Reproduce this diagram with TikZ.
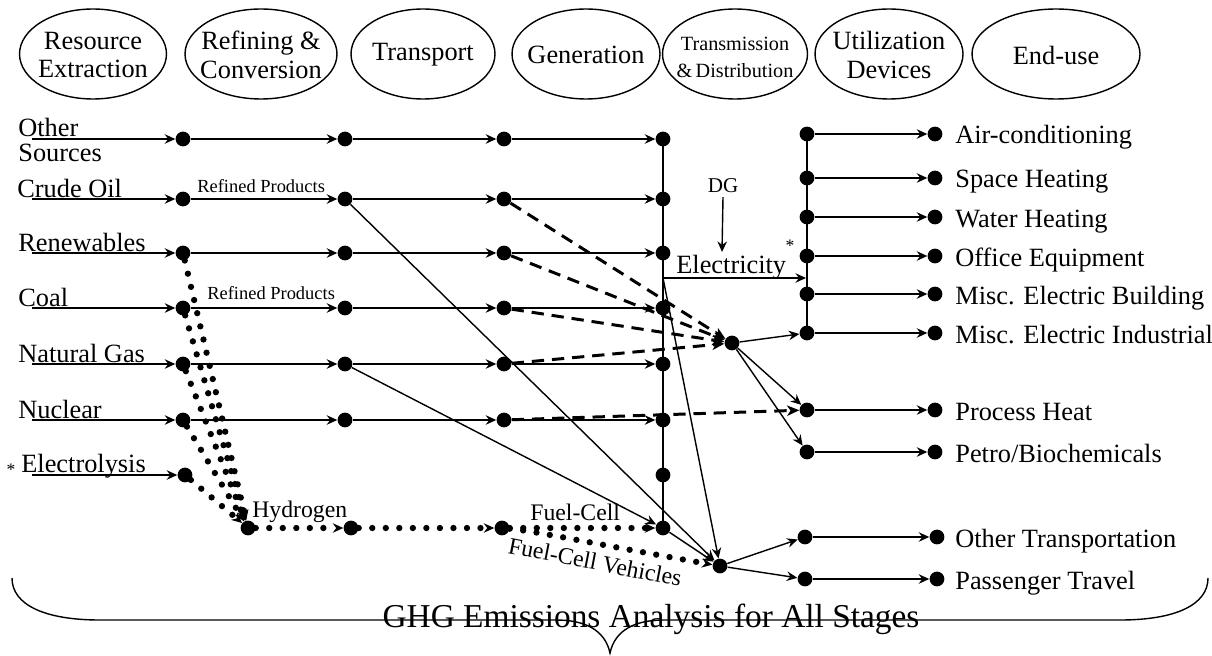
\documentclass[tikz,border=0pt]{standalone}
\usepackage{fontspec}
\setmainfont{Liberation Serif}
\usetikzlibrary{shapes.geometric,arrows.meta}
\begin{document}
\begin{tikzpicture}[x=0.02cm,y=-0.02cm,
  dot/.style={circle, fill=black, inner sep=0pt, minimum size=8.4pt},
  stage/.style={ellipse, draw, line width=0.8pt, inner sep=0pt, minimum height=1.8cm},
  stagetext/.style={inner sep=0pt, align=center, font=\fontsize{15}{16.4}\selectfont},
  flow/.style={line width=0.8pt, -{Stealth[length=6pt,width=5.4pt,inset=2pt]}},
  trunk/.style={line width=1pt},
  dashflow/.style={line width=1.7pt, dash pattern=on 7pt off 4.5pt,
    -{Stealth[length=7pt,width=6pt,inset=2pt,line width=0.8pt]}},
  dotflow/.style={line width=3.6pt, line cap=round, dash pattern=on 0pt off 7.7pt,
    -{Stealth[length=6pt,width=5.4pt,inset=2pt,line width=0.6pt]}},
  lab/.style={inner sep=0pt, font=\fontsize{15}{14.2}\selectfont},
  small/.style={inner sep=0pt, font=\fontsize{10.5}{12}\selectfont},
  mid/.style={inner sep=0pt, font=\fontsize{13.5}{15}\selectfont}]
\useasboundingbox (0,0) rectangle (1212,655);

% ---- life-cycle stages ----
\node[stage, minimum width=2.94cm] (res) at (93,54) {};
\node[stagetext] (rest) at (93,55) {Resource\\Extraction};
\node[stage, minimum width=3.04cm] (ref) at (261,54) {};
\node[stagetext] (reft) at (261,55) {Refining \&\\Conversion};
\node[stage, minimum width=2.88cm] (tra) at (423,54) {};
\node[stagetext] (trat) at (423,55) {Transport};
\node[stage, minimum width=2.96cm] (gen) at (586,54) {};
\node[stagetext] (gent) at (586,55) {Generation};
\node[stage, minimum width=2.9cm] (tnd) at (735,54) {};
\node[stagetext, font=\fontsize{11.5}{15.3}\selectfont] (tndt) at (735,57) {Transmission\\\&\,Distribution};
\node[stage, minimum width=2.96cm] (uti) at (889,54) {};
\node[stagetext] (utit) at (889,55) {Utilization\\Devices};
\node[stage, minimum width=3.36cm] (end) at (1056,54) {};
\node[stagetext] (endt) at (1056,55) {End-use};

% ---- trunk of the generation stage ----
\draw[trunk] (663,139) -- (663,528);

% ---- resource rows ----
\foreach \r/\y in {os/139, co/199, rn/253, cl/308, ng/364, nu/420} {
  \coordinate (\r0) at (32,\y);
  \foreach \c/\x in {1/183, 2/345, 3/504, 4/663}
    \node[dot] (\r\c) at (\x,\y) {};
  \draw[flow] (\r0) -- (\r1);
  \draw[flow] (\r1) -- (\r2);
  \draw[flow] (\r2) -- (\r3);
  \draw[flow] (\r3) -- (\r4);
}
\coordinate (el0) at (32,475);
\node[dot] (el1) at (185,475) {};
\node[dot] (el4) at (663,475) {};
\draw[flow] (el0) -- (el1);

\node[lab, anchor=west, align=left] (los) at (18,140) {Other\\Sources};
\node[lab, anchor=base west] (lco) at (17,197) {Crude Oil};
\node[lab, anchor=base west] (lrn) at (18,251) {Renewables};
\node[lab, anchor=base west] (lcl) at (18,306) {Coal};
\node[lab, anchor=base west] (lng) at (18,362) {Natural Gas};
\node[lab, anchor=base west] (lnu) at (18,418) {Nuclear};
\node[lab, anchor=base west] (lel) at (21,472) {Electrolysis};
\node[inner sep=0pt, font=\fontsize{10}{10}\selectfont] (star1) at (11,470) {*};

\node[small, anchor=base west] (rp1) at (197,193) {Refined Products};
\node[small, anchor=base west] (rp2) at (207,299) {Refined Products};

% ---- hydrogen pathway ----
\node[dot] (h1) at (248,528) {};
\node[dot] (h2) at (351,528) {};
\node[dot] (h3) at (502,528) {};
\node[dot] (h4) at (663,528) {};
\foreach \s in {rn1, cl1, ng1, nu1, el1}
  \draw[dotflow] (\s) -- (h1);
\draw[dotflow] (h1) -- (h2);
\draw[dotflow] (h2) -- (h3);
\draw[dotflow] (h3) -- (h4);
\node[mid, anchor=base west] (lh) at (252,517) {Hydrogen};
\node[mid, anchor=base west] (lfc) at (530,520) {Fuel-Cell};

% ---- hubs ----
\node[dot] (eh) at (732,343) {};
\node[dot] (th) at (720,566) {};
\draw[dotflow] (h3) .. controls (535,531) and (600,545) .. (th);
\node[mid, anchor=base west, rotate=-11] (lfv) at (507,553) {Fuel-Cell Vehicles};

% ---- electricity ----
\coordinate (es) at (663,278);
\coordinate (ee) at (806,278);
\draw[flow] (es) -- (ee);
\node[lab, anchor=base west] (lelc) at (676,273) {Electricity};
\node[inner sep=0pt, font=\fontsize{10}{10}\selectfont] (star2) at (790,246) {*};
\node[inner sep=2pt, anchor=base, font=\fontsize{12}{12}\selectfont] (dg) at (723,193) {DG};
\coordinate (dge) at (722,252);
\draw[flow] (dg.south) -- (dge);

% ---- utilization and end-use ----
\draw[trunk] (807,134) -- (807,333);
\foreach \n/\y/\t in {1/134/{Air-conditioning}, 2/178/{Space Heating}, 3/217/{Water Heating},
    4/256/{Office Equipment}, 5/294/{Misc. Electric Building}, 6/333/{Misc. Electric Industrial},
    7/410/{Process Heat}, 8/452/{Petro/Biochemicals}} {
  \node[dot] (u\n) at (807,\y) {};
  \node[dot] (e\n) at (935,\y) {};
  \draw[flow] (u\n) -- (e\n);
  \node[lab, anchor=base west] (t\n) at (955,\y+10) {\t};
}
\foreach \n/\y/\t in {9/537/{Other Transportation}, 10/579/{Passenger Travel}} {
  \node[dot] (u\n) at (805,\y) {};
  \node[dot] (e\n) at (937,\y) {};
  \draw[flow] (u\n) -- (e\n);
  \node[lab, anchor=base west] (t\n) at (955,\y+10) {\t};
}

% ---- cross connections ----
\draw[dashflow] (co3) -- (eh);
\draw[dashflow] (rn3) -- (eh);
\draw[dashflow] (cl3) -- (eh);
\draw[dashflow] (ng3) -- (eh);
\draw[dashflow] (nu3) -- (u7);
\draw[flow] (co2) -- (th);
\draw[flow] (ng2) -- (h4);
\draw[flow] (h4) -- (th);
\draw[flow] (es) -- (th);
\draw[flow] (eh) -- (u6);
\draw[flow] (eh) -- (u7);
\draw[flow] (eh) -- (u8);
\draw[flow] (th) -- (u9);
\draw[flow] (th) -- (u10);

% ---- overall brace ----
\draw[line width=0.8pt] (12,578) .. controls (12,605) and (45,620) .. (100,620) -- (556,620)
  .. controls (585,620) and (605,630) .. (610,653)
  .. controls (615,630) and (635,620) .. (664,620) -- (1120,620)
  .. controls (1175,620) and (1208,605) .. (1208,578);
\node[inner sep=0pt, anchor=base, font=\fontsize{19}{21}\selectfont] (ghg) at (651,627) {GHG Emissions Analysis for All Stages};
\end{tikzpicture}
\end{document}
